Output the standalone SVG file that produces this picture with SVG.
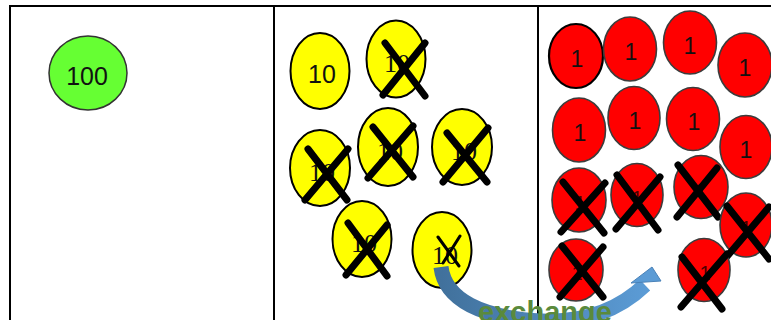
<svg xmlns="http://www.w3.org/2000/svg" width="771" height="320" viewBox="0 0 771 320">
<defs>
<style>
.grid{stroke:#000;stroke-width:2;fill:none}
.ye{fill:#ffff00;stroke:#000;stroke-width:2}
.re{fill:#ff0000;stroke:#3c3c3c;stroke-width:1.6}
.gr{fill:#66ff33;stroke:#333;stroke-width:1.5}
.sans{font-family:"Liberation Sans","Noto Sans",Arial,sans-serif;fill:#111;text-anchor:middle}
.serif{font-family:"Liberation Serif","DejaVu Serif",serif;font-size:26px;fill:#111;text-anchor:middle}
.one{font-size:23px}
.fone{font-size:20px;fill:#4a0000}
.x{stroke:#000;stroke-width:7;stroke-linecap:round;fill:none}
.xt{stroke:#000;stroke-width:3;stroke-linecap:round;fill:none}
</style>
<linearGradient id="blue" x1="0" y1="0" x2="1" y2="0">
<stop offset="0" stop-color="#41719c"/>
<stop offset="1" stop-color="#5b9bd5"/>
</linearGradient>
</defs>
<rect width="771" height="320" fill="#fff"/>
<g id="table" class="grid">
<line x1="10" y1="6" x2="771" y2="6"/>
<line x1="10" y1="5" x2="10" y2="320"/>
<line x1="274" y1="5" x2="274" y2="320"/>
<line x1="538" y1="5" x2="538" y2="320"/>
</g>
<g id="hundred">
<ellipse class="gr" cx="88" cy="73" rx="39" ry="37"/>
<text class="sans" x="87" y="85" font-size="25">100</text>
</g>
<g id="ten1"><ellipse class="ye" cx="320" cy="71" rx="29.5" ry="38"/><text class="sans" x="322" y="83" font-size="25">10</text></g>
<g id="ten2"><ellipse class="ye" cx="396" cy="59" rx="29.5" ry="38.5"/><text class="serif" x="397" y="72">10</text><path class="x" d="M385,43 L425,96 M425,43 L383,95"/></g>
<g id="ten3"><ellipse class="ye" cx="320" cy="168" rx="30" ry="38"/><text class="serif" x="322" y="181">10</text><path class="x" d="M308,149 L347,200 M348,149 L305,200"/></g>
<g id="ten4"><ellipse class="ye" cx="388" cy="147" rx="30" ry="39"/><text class="serif" x="390" y="160">10</text><path class="x" d="M373,127 L413,177 M413,126 L368,178"/></g>
<g id="ten5"><ellipse class="ye" cx="462" cy="147" rx="30" ry="38"/><text class="serif" x="464" y="160">10</text><path class="x" d="M447,133 L487,182 M488,128 L443,182"/></g>
<g id="ten6"><ellipse class="ye" cx="362" cy="239" rx="29.5" ry="38"/><text class="serif" x="364" y="252">10</text><path class="x" d="M348,223 L387,276 M387,225 L346,275"/></g>
<g id="ten7"><ellipse class="ye" cx="442" cy="250" rx="29.5" ry="38"/><text class="serif" x="445" y="264">10</text><path class="xt" d="M438,237 L459,266 M460,236 L443,263"/></g>
<g id="one1"><ellipse class="re" cx="576" cy="56" rx="27" ry="32" style="stroke:#000;stroke-width:2.2"/><text class="sans one" x="577" y="67">1</text></g>
<g id="one2"><ellipse class="re" cx="630" cy="49" rx="26.5" ry="32"/><text class="sans one" x="631" y="60">1</text></g>
<g id="one3"><ellipse class="re" cx="690" cy="42.5" rx="26.5" ry="31.5"/><text class="sans one" x="690" y="54">1</text></g>
<g id="one4"><ellipse class="re" cx="745" cy="65" rx="27" ry="32"/><text class="sans one" x="745" y="76">1</text></g>
<g id="one5"><ellipse class="re" cx="579" cy="130" rx="26.5" ry="32"/><text class="sans one" x="580" y="141">1</text></g>
<g id="one6"><ellipse class="re" cx="634" cy="118" rx="26" ry="31.5"/><text class="sans one" x="635" y="129">1</text></g>
<g id="one7"><ellipse class="re" cx="693" cy="119" rx="26.5" ry="31.5"/><text class="sans one" x="694" y="130">1</text></g>
<g id="one8"><ellipse class="re" cx="746" cy="147" rx="26" ry="31.5"/><text class="sans one" x="746" y="158">1</text></g>
<g id="one9"><ellipse class="re" cx="579" cy="200" rx="27" ry="32"/><text class="sans fone" x="580" y="210">1</text><path class="x" d="M563,182 L604,233 M605,183 L561,232"/></g>
<g id="one10"><ellipse class="re" cx="637" cy="195" rx="26" ry="31.5"/><text class="sans fone" x="637" y="205">1</text><path class="x" d="M617,175 L658,230 M660,177 L616,229"/></g>
<g id="one11"><ellipse class="re" cx="701" cy="187" rx="27" ry="31.5"/><text class="sans fone" x="701" y="197">1</text><path class="x" d="M678,165 L718,217 M717,168 L677,217"/></g>
<g id="one12"><ellipse class="re" cx="746" cy="225" rx="26" ry="32"/><text class="sans fone" x="746" y="235">1</text><path class="x" d="M727,206 L769,259 M769,207 L724,260"/></g>
<g id="one13"><ellipse class="re" cx="576" cy="270" rx="27" ry="31"/><text class="sans fone" x="577" y="280">1</text><path class="x" d="M562,246 L603,297 M603,247 L560,297"/></g>
<g id="one14"><ellipse class="re" cx="704" cy="270" rx="26" ry="31.5"/><text class="sans fone" x="705" y="280">1</text><path class="x" d="M682,257 L722,309 M727,254 L681,307"/></g>
<g id="connectors">
<path d="M441,267 C445,300 482,318 542,321 C592,323 624,305 645,285" fill="none" stroke="url(#blue)" stroke-width="15"/>
<polygon points="652,267 661,281 631,283" fill="#5b9bd5" stroke="#4a82b8" stroke-width="1"/>
</g>
<g id="label">
<text x="545" y="322" font-family="'Liberation Sans',Arial,sans-serif" font-weight="bold" font-size="29" fill="#5a8a3c" text-anchor="middle">exchange</text>
</g>
</svg>
